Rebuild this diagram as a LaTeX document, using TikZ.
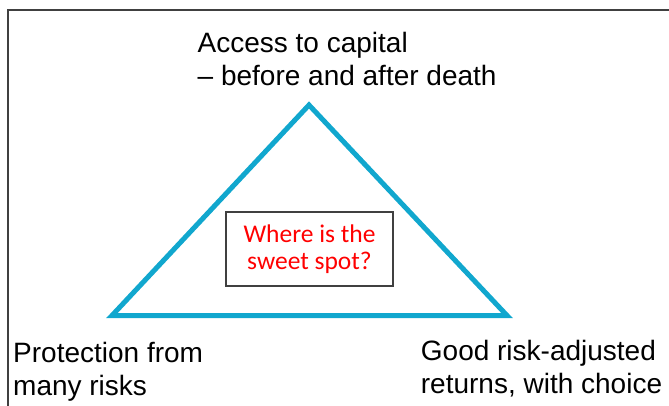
\documentclass[tikz,border=0pt]{standalone}
\usepackage{fontspec}
\setmainfont{Liberation Sans}
\newfontfamily\calfont{Carlito}
\usepackage{tikz}
\usetikzlibrary{positioning}
\definecolor{tricyan}{RGB}{17,167,206}
\definecolor{boxgray}{RGB}{64,64,64}

\begin{document}
\begin{tikzpicture}[
  x=1pt, y=-1pt,
  lbl/.style={inner sep=0pt, anchor=north west, align=left, font=\fontsize{28}{33}\selectfont},
  sweet/.style={draw=boxgray, line width=1.2pt, minimum width=167pt, minimum height=74pt, inner sep=0pt, align=center, text=red, font=\calfont\fontsize{25.5}{27.5}\selectfont},
  tri/.style={draw=tricyan, line width=5pt},
]
\clip (0,0) rectangle (669,405);
%% Frame
\draw[boxgray, line width=1.5pt] (7.8,10) rectangle (720,460);

%% Corners of the triangle
\coordinate (apex)  at (309,105);
\coordinate (left)  at (112,315.5);
\coordinate (right) at (507,315.5);
\draw[tri] (apex) -- (right) -- (left) -- cycle;

%% Labels
\node[lbl] (capital)    at (197.5,32)  {Access to capital\\\textendash{} before and after death};
\node[lbl] (protection) at (13,342.5)  {Protection from\\many risks};
\node[lbl] (returns)    at (420.7,339.6) {Good risk-adjusted\\returns, with choice};

%% Centre
\node[sweet] (spot) at (309.5,249) {Where is the\\sweet spot?};
\end{tikzpicture}
\end{document}
